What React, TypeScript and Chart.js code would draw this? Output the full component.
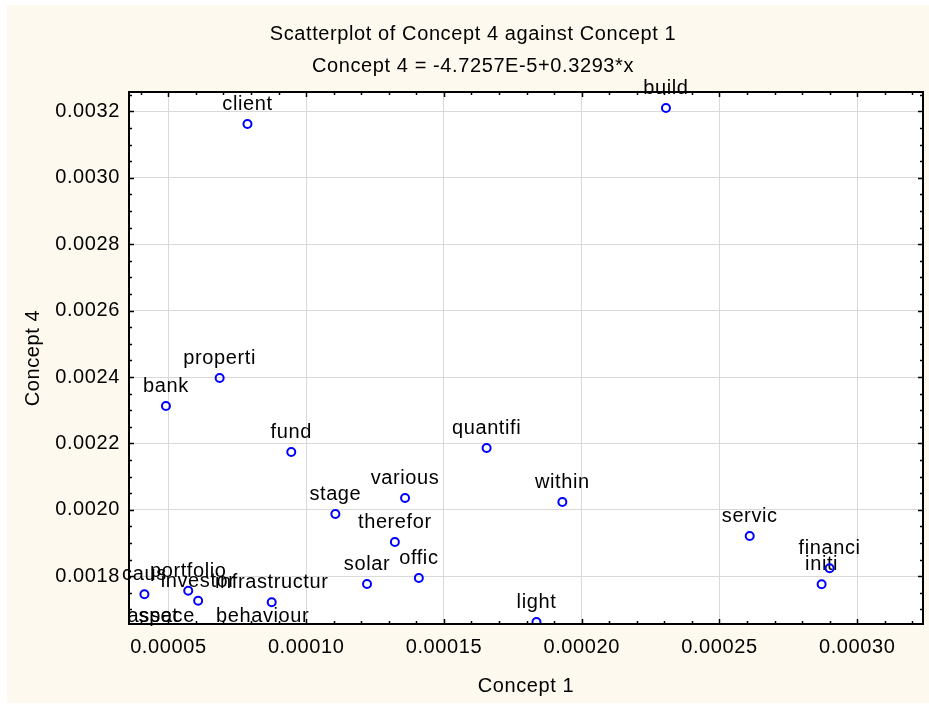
import React, { useEffect, useRef } from "react";
import { Chart, registerables } from "chart.js";

Chart.register(...registerables);

// ---- data ----
const terms = [
  "client", "build", "properti", "bank", "fund", "quantifi", "various", "within",
  "stage", "therefor", "servic", "financi", "initi", "solar", "offic", "light",
  "caus", "portfolio", "investor", "infrastructur", "behaviour", "asset", "space",
];
const concept1 = [
  0.0000787, 0.0002306, 0.0000686, 0.0000491, 0.0000946, 0.0001655, 0.0001359, 0.000193,
  0.0001106, 0.0001322, 0.000261, 0.00029, 0.0002871, 0.0001221, 0.0001409, 0.0001836,
  0.0000413, 0.0000572, 0.0000608, 0.0000875, 0.0000842, 0.0000444, 0.0000494,
];
const concept4 = [
  0.0031623, 0.0032105, 0.002397, 0.002313, 0.0021744, 0.0021865, 0.0020358, 0.0020238,
  0.0019877, 0.0019033, 0.0019214, 0.0018241, 0.0017759, 0.0017768, 0.0017949, 0.0016624,
  0.0017458, 0.0017566, 0.0017265, 0.0017217, 0.001617, 0.00162, 0.00161,
];
const xTickValues = [0.00005, 0.0001, 0.00015, 0.0002, 0.00025, 0.0003];
const yTickValues = [0.0018, 0.002, 0.0022, 0.0024, 0.0026, 0.0028, 0.003, 0.0032];
const titleLines = ["Scatterplot of Concept 4 against Concept 1", "Concept 4 = -4.7257E-5+0.3293*x"];
const xAxisTitle = "Concept 1";
const yAxisTitle = "Concept 4";

const X_MIN = 0.0000357;
const X_MAX = 0.0003239;
const Y_MIN = 0.0016563;
const Y_MAX = 0.0032587;
const X_MINOR = 0.00001;
const Y_MINOR = 0.00005;

const FONT = "'Liberation Sans', Arial, sans-serif";
const CREAM = "#fdf9ee";
const SPACING = "0.6px";

const decorPlugin = {
  id: "decor",
  beforeDraw(chart: any) {
    const { ctx, chartArea } = chart;
    const { left, top, right, bottom } = chartArea;
    ctx.fillStyle = "#ffffff";
    ctx.fillRect(0, 0, chart.width, chart.height);
    ctx.fillStyle = CREAM;
    ctx.fillRect(7, 5, chart.width - 7, chart.height - 6);
    ctx.fillStyle = "#ffffff";
    ctx.fillRect(left, top, right - left, bottom - top);
    try {
      (ctx as any).letterSpacing = SPACING;
    } catch (e) {}
  },
  beforeDatasetsDraw(chart: any) {
    const { ctx, chartArea } = chart;
    const xs = chart.scales.x;
    const ys = chart.scales.y;
    ctx.save();
    ctx.font = `20px ${FONT}`;
    ctx.fillStyle = "#000";
    ctx.textAlign = "center";
    ctx.textBaseline = "alphabetic";
    terms.forEach((t, i) => {
      const px = xs.getPixelForValue(concept1[i]);
      const py = ys.getPixelForValue(concept4[i]);
      let base = py - 14;
      if (base > chartArea.bottom - 2) base = chartArea.bottom - 2;
      ctx.fillText(t, px, base);
    });
    ctx.restore();
  },
  afterDraw(chart: any) {
    const { ctx, chartArea } = chart;
    const { left, top, right, bottom } = chartArea;
    const xs = chart.scales.x;
    const ys = chart.scales.y;
    ctx.save();
    ctx.strokeStyle = "#000";
    ctx.lineWidth = 1.5;
    ctx.beginPath();
    const xStart = Math.ceil(X_MIN / X_MINOR);
    const xEnd = Math.floor(X_MAX / X_MINOR);
    for (let k = xStart; k <= xEnd; k++) {
      const v = k * X_MINOR;
      const px = Math.round(xs.getPixelForValue(v)) + 0.5;
      const len = k % 5 === 0 ? 5 : 3;
      ctx.moveTo(px, bottom);
      ctx.lineTo(px, bottom - len);
      ctx.moveTo(px, top);
      ctx.lineTo(px, top + len);
    }
    const yStart = Math.ceil(Y_MIN / Y_MINOR - 1e-6);
    const yEnd = Math.floor(Y_MAX / Y_MINOR + 1e-6);
    for (let k = yStart; k <= yEnd; k++) {
      const v = k * Y_MINOR;
      const py = Math.round(ys.getPixelForValue(v)) + 0.5;
      const len = k % 4 === 0 ? 5 : 3;
      ctx.moveTo(left, py);
      ctx.lineTo(left + len, py);
      ctx.moveTo(right, py);
      ctx.lineTo(right - len, py);
    }
    ctx.stroke();
    ctx.lineWidth = 2;
    ctx.strokeRect(left, top, right - left, bottom - top);
    ctx.font = `20px ${FONT}`;
    ctx.fillStyle = "#000";
    ctx.textAlign = "center";
    ctx.textBaseline = "middle";
    ctx.fillText(titleLines[0], 473, 34);
    ctx.fillText(titleLines[1], 473, 66);
    ctx.restore();
  },
};

export default function App() {
  const ref = useRef<HTMLCanvasElement | null>(null);
  useEffect(() => {
    if (!ref.current) return;
    const chart = new Chart(ref.current, {
      type: "scatter",
      data: {
        datasets: [
          {
            data: concept1.map((x, i) => ({ x, y: concept4[i] })),
            pointRadius: 4,
            pointHoverRadius: 4,
            pointBorderWidth: 2,
            pointBorderColor: "#0000ff",
            pointBackgroundColor: "rgba(0,0,0,0)",
            clip: 0,
          } as any,
        ],
      },
      options: {
        animation: false,
        responsive: false,
        devicePixelRatio: 1,
        events: [],
        layout: { padding: { top: 92, right: 3, left: 0, bottom: 0 } },
        plugins: { legend: { display: false }, tooltip: { enabled: false }, title: { display: false } },
        scales: {
          x: {
            type: "linear",
            min: X_MIN,
            max: X_MAX,
            afterBuildTicks: (s: any) => {
              s.ticks = xTickValues.map((v) => ({ value: v }));
            },
            afterFit: (s: any) => {
              s.height = 80;
            },
            grid: { color: "#d9d9d9", lineWidth: 1, drawTicks: false },
            border: { display: false },
            ticks: {
              autoSkip: false,
              maxRotation: 0,
              padding: 11,
              color: "#000",
              font: { family: FONT, size: 20 },
              callback: (v: any) => Number(v).toFixed(5),
            },
            title: {
              display: true,
              text: xAxisTitle,
              color: "#000",
              font: { family: FONT, size: 20 },
              padding: { top: 0, bottom: 6 },
            },
          },
          y: {
            type: "linear",
            min: Y_MIN,
            max: Y_MAX,
            afterBuildTicks: (s: any) => {
              s.ticks = yTickValues.map((v) => ({ value: v }));
            },
            afterFit: (s: any) => {
              s.width = 129;
            },
            grid: { color: "#d9d9d9", lineWidth: 1, drawTicks: false },
            border: { display: false },
            ticks: {
              autoSkip: false,
              padding: 9,
              color: "#000",
              font: { family: FONT, size: 20 },
              callback: (v: any) => Number(v).toFixed(4),
            },
            title: {
              display: true,
              text: yAxisTitle,
              color: "#000",
              font: { family: FONT, size: 20 },
              padding: { top: 21, bottom: 0 },
            },
          },
        },
      },
      plugins: [decorPlugin],
    } as any);
    return () => chart.destroy();
  }, []);
  return (
    <div style={{ position: "fixed", left: 0, top: 0, width: 929, height: 704 }}>
      <canvas ref={ref} width={929} height={704} style={{ display: "block" }} />
    </div>
  );
}
